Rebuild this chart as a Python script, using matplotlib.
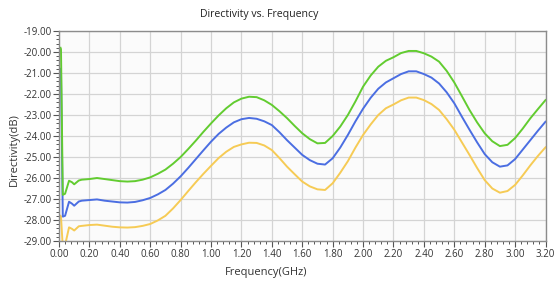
import matplotlib
matplotlib.use("Agg")
import matplotlib.pyplot as plt
from matplotlib.ticker import MultipleLocator, FormatStrFormatter

# ---------------- data ----------------
freq = [0.010, 0.013, 0.025, 0.040, 0.066, 0.085, 0.100, 0.130,
        0.15, 0.20, 0.25, 0.30, 0.35, 0.40, 0.45, 0.50, 0.55, 0.60,
        0.65, 0.70, 0.75, 0.80, 0.85, 0.90, 0.95, 1.00, 1.05, 1.10,
        1.15, 1.20, 1.25, 1.30, 1.35, 1.40, 1.45, 1.50, 1.55, 1.60,
        1.65, 1.70, 1.75, 1.80, 1.85, 1.90, 1.95, 2.00, 2.05, 2.10,
        2.15, 2.20, 2.25, 2.30, 2.35, 2.40, 2.45, 2.50, 2.55, 2.60,
        2.65, 2.70, 2.75, 2.80, 2.85, 2.90, 2.95, 3.00, 3.05, 3.10,
        3.15, 3.20]

green = [-19.80, -19.86, -26.80, -26.75, -26.13, -26.20, -26.30, -26.12,
         -26.08, -26.05, -26.00, -26.05, -26.10, -26.15, -26.17, -26.15, -26.08, -25.97,
         -25.80, -25.60, -25.32, -25.00, -24.62, -24.22, -23.80, -23.40, -23.02, -22.68,
         -22.40, -22.22, -22.13, -22.15, -22.30, -22.52, -22.82, -23.15, -23.52, -23.87,
         -24.15, -24.35, -24.33, -24.00, -23.55, -23.00, -22.35, -21.65, -21.12, -20.70,
         -20.42, -20.25, -20.05, -19.95, -19.95, -20.06, -20.22, -20.46, -20.90, -21.45,
         -22.10, -22.76, -23.35, -23.87, -24.25, -24.48, -24.42, -24.10, -23.65, -23.16,
         -22.72, -22.29]

blue = [-20.80, -20.86, -27.84, -27.80, -27.13, -27.22, -27.32, -27.12,
        -27.08, -27.05, -27.02, -27.08, -27.12, -27.16, -27.17, -27.14, -27.06, -26.95,
        -26.78, -26.57, -26.27, -25.92, -25.52, -25.10, -24.68, -24.27, -23.90, -23.60,
        -23.35, -23.20, -23.14, -23.18, -23.30, -23.48, -23.82, -24.20, -24.55, -24.90,
        -25.15, -25.32, -25.36, -25.06, -24.55, -23.95, -23.30, -22.70, -22.18, -21.75,
        -21.45, -21.25, -21.05, -20.92, -20.92, -21.05, -21.22, -21.50, -21.92, -22.44,
        -23.08, -23.70, -24.30, -24.86, -25.25, -25.46, -25.40, -25.10, -24.65, -24.20,
        -23.75, -23.32]

yellow = [-27.80, -27.84, -29.30, -29.20, -28.35, -28.42, -28.50, -28.30,
          -28.28, -28.24, -28.22, -28.27, -28.32, -28.35, -28.36, -28.34, -28.28, -28.19,
          -28.02, -27.80, -27.45, -27.05, -26.62, -26.20, -25.80, -25.42, -25.05, -24.75,
          -24.52, -24.40, -24.32, -24.33, -24.45, -24.67, -25.05, -25.46, -25.82, -26.17,
          -26.40, -26.54, -26.57, -26.25, -25.75, -25.20, -24.55, -23.95, -23.45, -23.00,
          -22.68, -22.50, -22.30, -22.17, -22.17, -22.29, -22.48, -22.76, -23.20, -23.70,
          -24.30, -24.90, -25.52, -26.10, -26.50, -26.70, -26.62, -26.33, -25.88, -25.40,
          -24.95, -24.54]

# ---------------- plot ----------------
plt.rcParams["font.family"] = ["Open Sans", "DejaVu Sans"]

fig = plt.figure(figsize=(5.54, 2.82), dpi=100)
ax = fig.add_axes([59 / 554, 1 - 241 / 282, 486.5 / 554, 210 / 282])
ax.set_facecolor("#fbfbfb")

ax.plot(freq, yellow, color="#f6cb55", lw=1.4)
ax.plot(freq, blue, color="#4b6ee2", lw=1.4)
ax.plot(freq, green, color="#62cc30", lw=1.4)

ax.set_xlim(0, 3.2)
ax.set_ylim(-29, -19)
ax.xaxis.set_major_locator(MultipleLocator(0.2))
ax.xaxis.set_minor_locator(MultipleLocator(0.04))
ax.yaxis.set_major_locator(MultipleLocator(1.0))
ax.yaxis.set_minor_locator(MultipleLocator(0.2))
ax.xaxis.set_major_formatter(FormatStrFormatter("%.2f"))
ax.yaxis.set_major_formatter(FormatStrFormatter("%.2f"))

ax.grid(True, which="major", color="#d4d4d4", lw=0.9)
ax.set_axisbelow(True)
ax.tick_params(which="major", length=4, width=0.8, color="#555555",
               labelsize=7, labelcolor="#333333", pad=1.5)
ax.tick_params(which="minor", length=2, width=0.7, color="#555555")
for s in ax.spines.values():
    s.set_color("#8c8c8c")
    s.set_linewidth(1.0)

fig.text(259 / 554, 1 - 15 / 282, "Directivity vs. Frequency",
         ha="center", va="center", fontsize=7.6, color="#222222")
fig.text(266 / 554, 1 - 272 / 282, "Frequency(GHz)",
         ha="center", va="center", fontsize=8, color="#333333")
fig.text(14 / 554, 1 - 150 / 282, "Directivity(dB)", rotation=90,
         ha="center", va="center", fontsize=8, color="#333333")

fig.savefig("out.png", dpi=100)
